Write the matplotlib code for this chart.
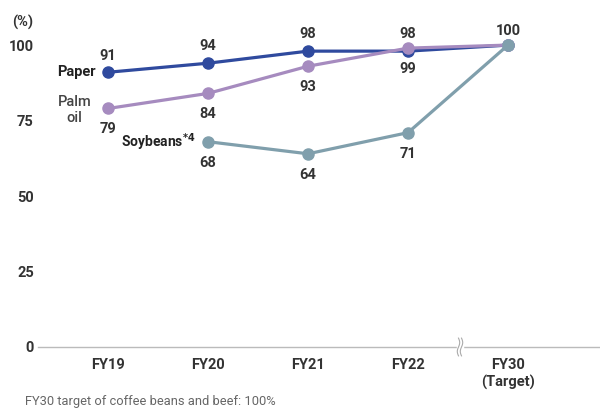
import matplotlib
matplotlib.use("Agg")
import matplotlib.pyplot as plt
import matplotlib.transforms as mtransforms
import numpy as np

plt.rcParams['font.family'] = ['Roboto', 'DejaVu Sans']

categories = ["FY19", "FY20", "FY21", "FY22", "FY30\n(Target)"]
paper = [91, 94, 98, 98, 100]
palm = [79, 84, 93, 99, 100]
soy_x = [1, 2, 3, 4]
soy = [68, 64, 71, 100]
yticks = [0, 25, 50, 75, 100]

c_paper = "#2f4a9e"
c_palm = "#a68bbf"
c_soy = "#809fac"
txt = "#333333"

fig = plt.figure(figsize=(6.0, 4.09), dpi=100)
ax = fig.add_axes([38/600, 62/409, 562/600, 317/409])
ax.set_xlim(-0.7, 4.92)
ax.set_ylim(0, 105)

x = np.arange(len(categories))
lw = 2.3
ms = 8
ax.plot(x, paper, color=c_paper, lw=lw, marker='o', ms=ms, zorder=3, clip_on=False)
ax.plot(x, palm, color=c_palm, lw=lw, marker='o', ms=ms, zorder=4, clip_on=False)
ax.plot(soy_x, soy, color=c_soy, lw=lw, marker='o', ms=ms, zorder=5, clip_on=False)

fs = 10.5
for i in range(4):
    ax.annotate(str(paper[i]), (x[i], paper[i]), xytext=(0, 7), textcoords='offset points',
                ha='center', va='bottom', fontsize=fs, fontweight='bold', color=txt)
    ax.annotate(str(palm[i]), (x[i], palm[i]), xytext=(0, -10), textcoords='offset points',
                ha='center', va='top', fontsize=fs, fontweight='bold', color=txt)
for xi, v in zip(soy_x[:-1], soy[:-1]):
    ax.annotate(str(v), (xi, v), xytext=(0, -10), textcoords='offset points',
                ha='center', va='top', fontsize=fs, fontweight='bold', color=txt)
ax.annotate(str(paper[4]), (x[4], paper[4]), xytext=(0, 5), textcoords='offset points',
            ha='center', va='bottom', fontsize=fs, fontweight='bold', color=txt)

# series labels
ax.annotate("Paper", (x[0], paper[0]), xytext=(-9, 0), textcoords='offset points',
            ha='right', va='center', fontsize=fs, fontweight='bold', color='#222222')
ax.annotate("Palm\noil", (x[0], palm[0]), xytext=(-24, -1), textcoords='offset points',
            ha='center', va='center', fontsize=fs, fontweight='medium', color='#444444',
            linespacing=1.15)
ax.annotate(r"Soybeans$^{\mathbf{*4}}$", (soy_x[0], soy[0]), xytext=(-9, 0), textcoords='offset points',
            ha='right', va='center', fontsize=fs - 0.5, fontweight='bold', color='#222222')

# axes styling
for s in ['top', 'right', 'left']:
    ax.spines[s].set_visible(False)
ax.spines['bottom'].set_color('#bbbbbb')
ax.spines['bottom'].set_linewidth(1.0)
ax.set_yticks(yticks)
ax.set_yticklabels([str(t) for t in yticks], fontsize=fs, fontweight='bold', color=txt)
ax.tick_params(axis='y', length=0, pad=3)
ax.set_xticks(x)
ax.set_xticklabels(categories, fontsize=fs, fontweight='bold', color=txt, linespacing=1.25)
ax.tick_params(axis='x', length=0, pad=8)

fig.text(12/600, 1 - 22/409, "(%)", fontsize=fs, fontweight='bold', color=txt,
         ha='left', va='center')

# axis break mark
bx = 3.52
trans = mtransforms.blended_transform_factory(ax.transData, ax.transAxes)
ax.add_patch(plt.Rectangle((bx - 0.03, -0.02), 0.06, 0.04, transform=trans,
                           color='white', zorder=6, clip_on=False))
t = np.linspace(-1, 1, 40)
for off in (-0.015, 0.015):
    ax.plot(bx + off + 0.012 * np.sin(t * np.pi), 0.028 * t, transform=trans,
            color='#aaaaaa', lw=0.8, zorder=7, clip_on=False)

fig.text(25/600, 1 - 402/409, "FY30 target of coffee beans and beef: 100%",
         fontsize=9.3, color='#666666', ha='left', va='center')

fig.savefig("out.png", dpi=100)
